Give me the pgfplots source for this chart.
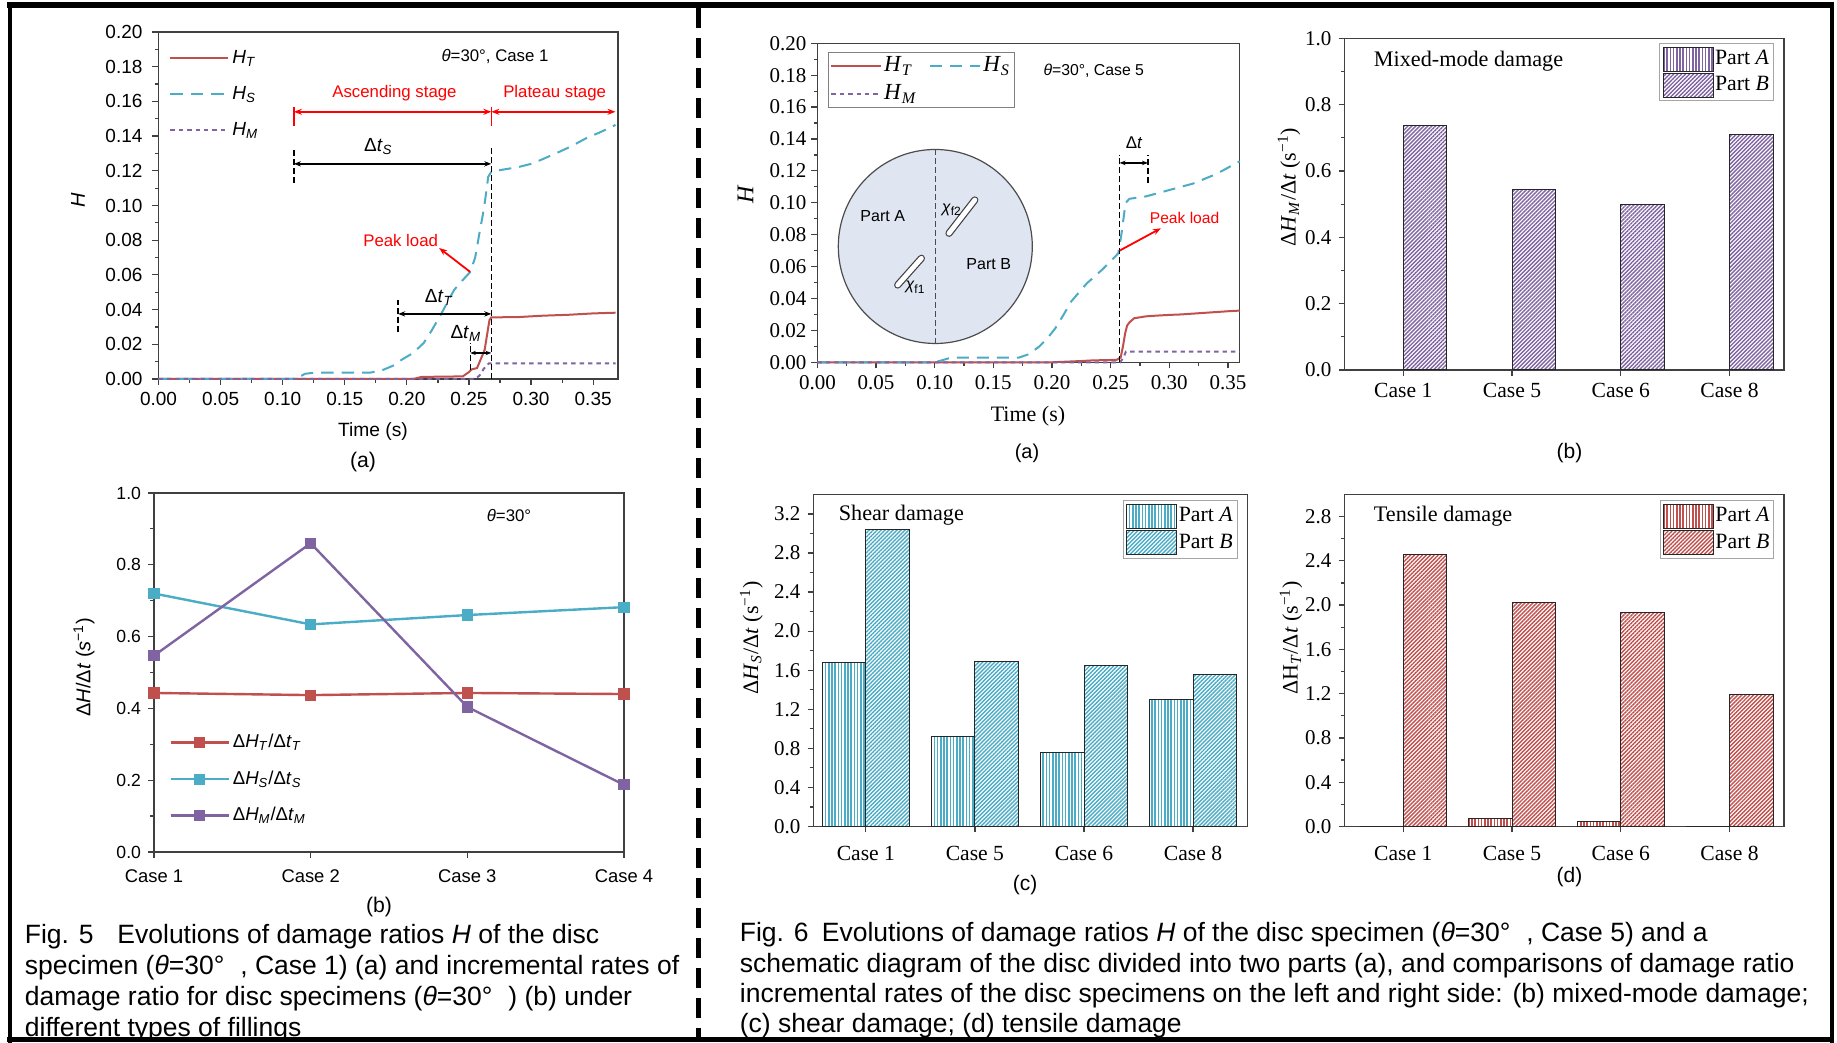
\documentclass[border=0pt]{standalone}
\usepackage{fontspec}
\setmainfont{Liberation Sans}
\newfontfamily\serif{Liberation Serif}
\usepackage{pgfplots}
\pgfplotsset{compat=1.18}
\usetikzlibrary{patterns.meta,arrows.meta}
\definecolor{cT}{HTML}{C0504D}
\definecolor{cS}{HTML}{4BACC6}
\definecolor{cM}{HTML}{8064A2}
\definecolor{disc}{HTML}{DFE5F1}
\definecolor{axc}{HTML}{404040}
\newcommand{\fs}[1]{\fontsize{#1}{#1}\selectfont}
\pgfplotsset{
  base/.style={scale only axis, axis line style={draw=axc, line width=0.7pt},
    tick style={draw=axc, line width=0.6pt}, tick align=outside,
    xtick pos=left, ytick pos=left, major tick length=3pt, minor tick length=1.8pt,
    scaled ticks=false, /pgf/number format/assume math mode=true, clip=false},
  barA/.style={fill=white, draw=black!85, line width=0.5pt,
    postaction={pattern={Lines[angle=90,distance=1.6pt,line width=0.75pt]}, pattern color=#1}},
  barB/.style={fill=white, draw=black!85, line width=0.5pt,
    postaction={pattern={Lines[angle=45,distance=1.4pt,line width=0.7pt]}, pattern color=#1}},
  barleg/.style={legend image code/.code={\draw[##1, draw=black!85, line width=0.5pt] (0pt,-6pt) rectangle (25pt,6pt);}},
  barlegstyle/.style={legend style={at={#1}, anchor=north east, draw=gray!70, fill=white,
    font=\serif\fs{10.9}, inner sep=1.5pt, row sep=0.6pt, nodes={inner sep=0.7pt}}, legend cell align=left},
}
\begin{document}
\begin{tikzpicture}[x=0.5pt,y=0.5pt]
\useasboundingbox (0,0) rectangle (1837,1043);
\fill[white] (0,0) rectangle (1837,1043);

% ---------------- Fig 5 (a)
\begin{axis}[base, at={(79.25pt,332pt)}, anchor=south west, width=229.75pt, height=173.5pt,
  xmin=0, xmax=0.37, ymin=0, ymax=0.2,
  xtick={0,0.05,0.1,0.15,0.2,0.25,0.3,0.35},
  ytick={0,0.02,0.04,0.06,0.08,0.1,0.12,0.14,0.16,0.18,0.2},
  minor x tick num=1, minor y tick num=1,
  tick label style={font=\fs{9.5}},
  xticklabel style={/pgf/number format/.cd,fixed,fixed zerofill,precision=2},
  yticklabel style={/tikz/xshift=-1.5pt, /pgf/number format/.cd,fixed,fixed zerofill,precision=2},
  legend style={at={(0.023,0.957)}, anchor=north west, draw=none, fill=none,
    font=\fs{9.5}, row sep=7pt, inner sep=0pt, nodes={inner sep=1.5pt}},
  legend cell align=left,
  legend image code/.code={\draw[#1] (0pt,0pt) -- (29pt,0pt);},
]
\addplot[cT, line width=1pt] coordinates {(0,0) (0.205,0) (0.212,0.0012) (0.245,0.0015) (0.250,0.0040) (0.252,0.0055) (0.2565,0.0063) (0.2626,0.0167) (0.2665,0.0340) (0.268,0.0355) (0.290,0.0357) (0.310,0.0365) (0.330,0.0370) (0.350,0.0378) (0.368,0.0382)};
\addlegendentry{\textit{H}\textsubscript{\textit{T}}}
\addplot[cS, line width=1pt, dash pattern=on 6.25pt off 4pt] coordinates {(0,0) (0.110,0) (0.113,0.001) (0.118,0.0030) (0.125,0.0036) (0.170,0.0036) (0.180,0.0050) (0.190,0.0080) (0.1956,0.0110) (0.205,0.0150) (0.2135,0.0207) (0.220,0.0280) (0.228,0.0380) (0.238,0.0513) (0.245,0.0570) (0.251,0.0617) (0.255,0.0700) (0.2584,0.0840) (0.261,0.0940) (0.263,0.1030) (0.2655,0.1165) (0.268,0.1195) (0.280,0.1210) (0.289,0.1220) (0.300,0.1240) (0.307,0.1260) (0.320,0.1300) (0.332,0.1340) (0.345,0.1390) (0.355,0.1420) (0.368,0.1464)};
\addlegendentry{\textit{H}\textsubscript{\textit{S}}}
\addplot[cM, line width=1pt, dash pattern=on 2.2pt off 2pt] coordinates {(0,0) (0.255,0) (0.2585,0.002) (0.262,0.006) (0.266,0.009) (0.368,0.009)};
\addlegendentry{\textit{H}\textsubscript{\textit{M}}}
% annotations
\draw[red, line width=0.8pt, {Stealth[length=4pt]}-{Stealth[length=4pt]}] (axis cs:0.109,0.154) -- (axis cs:0.268,0.154);
\draw[red, line width=0.8pt, {Stealth[length=4pt]}-{Stealth[length=4pt]}] (axis cs:0.268,0.154) -- (axis cs:0.368,0.154);
\draw[red, line width=0.8pt] (axis cs:0.109,0.146) -- (axis cs:0.109,0.157);
\draw[red, line width=0.8pt] (axis cs:0.268,0.146) -- (axis cs:0.268,0.157);
\node[red, font=\fs{8.4}] at (axis cs:0.190,0.165) {Ascending stage};
\node[red, font=\fs{8.4}] at (axis cs:0.319,0.165) {Plateau stage};
\node[font=\fs{8.4}] at (axis cs:0.271,0.186) {\textit{θ}=30°, Case 1};
\draw[black, line width=0.7pt, dash pattern=on 3pt off 1.5pt] (axis cs:0.109,0.113) -- (axis cs:0.109,0.133);
\draw[black, line width=0.8pt, dash pattern=on 3pt off 1.5pt] (axis cs:0.268,0) -- (axis cs:0.268,0.133);
\draw[black, line width=0.8pt, {Stealth[length=3.5pt]}-{Stealth[length=3.5pt]}] (axis cs:0.109,0.124) -- (axis cs:0.268,0.124);
\node[font=\fs{9.5}] at (axis cs:0.177,0.134) {Δ\textit{t}\textsubscript{\textit{S}}};
\draw[black, line width=0.7pt, dash pattern=on 3pt off 1.5pt] (axis cs:0.193,0.027) -- (axis cs:0.193,0.0455);
\draw[black, line width=0.8pt, {Stealth[length=3.5pt]}-{Stealth[length=3.5pt]}] (axis cs:0.193,0.0375) -- (axis cs:0.268,0.0375);
\node[font=\fs{9.5}] at (axis cs:0.226,0.047) {Δ\textit{t}\textsubscript{\textit{T}}};
\draw[black, line width=0.7pt, dash pattern=on 3pt off 1.5pt] (axis cs:0.251,0.005) -- (axis cs:0.251,0.0207);
\draw[black, line width=0.8pt, {Stealth[length=2.8pt]}-{Stealth[length=2.8pt]}] (axis cs:0.251,0.015) -- (axis cs:0.268,0.015);
\node[font=\fs{9.5}] at (axis cs:0.2475,0.0265) {Δ\textit{t}\textsubscript{\textit{M}}};
\node[red, font=\fs{8.4}] at (axis cs:0.195,0.080) {Peak load};
\draw[red, line width=0.9pt, -{Stealth[length=4pt]}] (axis cs:0.251,0.0617) -- (axis cs:0.226,0.0755);
\end{axis}
\node[rotate=90, font=\fs{10}\itshape] at (78,1043-200) {H};
\node[font=\fs{9.6}] at (373,1043-432) {Time (s)};
\node[font=\fs{10.6}] at (363,1043-462) {(a)};

% ---------------- Fig 5 (b)
\begin{axis}[base, at={(77pt,95.5pt)}, anchor=south west, width=235pt, height=179.5pt,
  xmin=0, xmax=3, ymin=0, ymax=1,
  xtick={0,1,2,3}, xticklabels={Case 1,Case 2,Case 3,Case 4},
  ytick={0,0.2,0.4,0.6,0.8,1}, minor y tick num=1,
  tick label style={font=\fs{8.8}},
  xticklabel style={font=\fs{9.2}, yshift=-2.5pt},
  yticklabel style={/pgf/number format/.cd,fixed,fixed zerofill,precision=1},
  legend style={at={(0.032,0.337)}, anchor=north west, draw=none, fill=none,
    font=\fs{9.3}, row sep=7pt, inner sep=0pt, nodes={inner sep=1.5pt}},
  legend cell align=left,
  legend image code/.code={\draw[mark repeat=2,mark phase=2,#1] plot coordinates {(0pt,0pt) (14.5pt,0pt) (29pt,0pt)};},
]
\addplot[cT, line width=1.2pt, mark=square*, mark size=2.2pt] coordinates {(0,0.443) (1,0.437) (2,0.443) (3,0.440)};
\addlegendentry{Δ\textit{H}\textsubscript{\textit{T}}/Δ\textit{t}\textsubscript{\textit{T}}}
\addplot[cS, line width=1.2pt, mark=square*, mark size=2.2pt] coordinates {(0,0.720) (1,0.634) (2,0.660) (3,0.682)};
\addlegendentry{Δ\textit{H}\textsubscript{\textit{S}}/Δ\textit{t}\textsubscript{\textit{S}}}
\addplot[cM, line width=1.2pt, mark=square*, mark size=2.2pt] coordinates {(0,0.547) (1,0.860) (2,0.404) (3,0.187)};
\addlegendentry{Δ\textit{H}\textsubscript{\textit{M}}/Δ\textit{t}\textsubscript{\textit{M}}}
\node[font=\fs{8.4}] at (axis cs:2.266,0.936) {\textit{θ}=30°};
\end{axis}
\node[rotate=90, font=\fs{10}] at (84,1043-667) {Δ\textit{H}/Δ\textit{t} (\textit{s}\textsuperscript{−1})};
\node[font=\fs{10.6}] at (379,1043-907) {(b)};

% ---------------- Fig 6 (a)
\begin{axis}[base, at={(408.7pt,340.35pt)}, anchor=south west, width=211.15pt, height=159.5pt,
  xmin=0, xmax=0.36, ymin=0, ymax=0.2,
  xtick={0,0.05,0.1,0.15,0.2,0.25,0.3,0.35},
  ytick={0,0.02,0.04,0.06,0.08,0.1,0.12,0.14,0.16,0.18,0.2},
  minor x tick num=1, minor y tick num=1,
  tick label style={font=\serif\fs{10.5}},
  xticklabel style={/pgf/number format/.cd,fixed,fixed zerofill,precision=2},
  yticklabel style={/tikz/xshift=1pt, /pgf/number format/.cd,fixed,fixed zerofill,precision=2},
  legend style={at={(0.024,0.974)}, anchor=north west, draw=gray, fill=white,
    font=\serif\fs{11.5}, inner sep=1.2pt, row sep=2.5pt, nodes={inner sep=1.2pt},
    /tikz/every even column/.append style={column sep=5pt}},
  legend columns=2, legend cell align=left,
  legend image code/.code={\draw[#1] (0pt,0pt) -- (24.75pt,0pt);},
]
\addplot[cT, line width=1pt] coordinates {(0,0) (0.200,0) (0.225,0.0008) (0.235,0.0012) (0.255,0.0015) (0.2585,0.003) (0.2605,0.010) (0.2623,0.018) (0.264,0.023) (0.266,0.025) (0.270,0.0276) (0.280,0.0288) (0.290,0.0293) (0.300,0.0297) (0.310,0.0300) (0.320,0.0305) (0.330,0.0310) (0.340,0.0315) (0.350,0.0320) (0.360,0.0324)};
\addlegendentry{\textit{H}\textsubscript{\textit{T}}}
\addplot[cS, line width=1pt, dash pattern=on 6pt off 4pt] coordinates {(0,0) (0.100,0) (0.105,0.001) (0.112,0.0025) (0.120,0.003) (0.172,0.003) (0.180,0.005) (0.189,0.0098) (0.196,0.015) (0.2028,0.0213) (0.210,0.030) (0.2162,0.038) (0.2297,0.0495) (0.2431,0.0583) (0.2565,0.0683) (0.2593,0.081) (0.2627,0.0999) (0.266,0.1025) (0.280,0.1040) (0.290,0.1060) (0.300,0.1080) (0.310,0.1100) (0.320,0.1120) (0.330,0.1150) (0.340,0.1180) (0.350,0.1220) (0.360,0.1260)};
\addlegendentry{\textit{H}\textsubscript{\textit{S}}}
\addplot[cM, line width=1pt, dash pattern=on 2.2pt off 2pt] coordinates {(0,0) (0.258,0) (0.261,0.003) (0.263,0.0067) (0.360,0.0067)};
\addlegendentry{\textit{H}\textsubscript{\textit{M}}}
\draw[black, line width=0.8pt, dash pattern=on 3pt off 1.5pt] (axis cs:0.2576,0) -- (axis cs:0.2576,0.130);
\draw[black, line width=0.8pt, dash pattern=on 3pt off 1.5pt] (axis cs:0.2818,0.1124) -- (axis cs:0.2818,0.130);
\draw[black, line width=0.8pt, {Stealth[length=3pt]}-{Stealth[length=3pt]}] (axis cs:0.2576,0.125) -- (axis cs:0.2818,0.125);
\node[font=\fs{8.5}] at (axis cs:0.270,0.1375) {Δ\textit{t}};
\node[red, font=\fs{7.8}] at (axis cs:0.313,0.0903) {Peak load};
\draw[red, line width=0.9pt, -{Stealth[length=4pt]}] (axis cs:0.2576,0.070) -- (axis cs:0.2928,0.084);
\node[font=\fs{7.9}] at (axis cs:0.2356,0.1826) {\textit{θ}=30°, Case 5};
\end{axis}
% disc schematic
\fill[disc] (935.3,1043-246.5) circle [radius=48.5pt];
\draw[black!70, line width=0.6pt] (935.3,1043-246.5) circle [radius=48.5pt];
\draw[black!70, line width=0.5pt, dash pattern=on 3pt off 1.5pt] (935.3,1043-149.5) -- (935.3,1043-343.5);
\draw[black!75, line width=3.6pt, line cap=round] (949,1043-233.3) -- (974.8,1043-200);
\draw[white, line width=2.4pt, line cap=round] (949,1043-233.3) -- (974.8,1043-200);
\draw[black!75, line width=3.6pt, line cap=round] (897.7,1043-285) -- (921.4,1043-258.3);
\draw[white, line width=2.4pt, line cap=round] (897.7,1043-285) -- (921.4,1043-258.3);
\node[font=\fs{8}] at (882.7,1043-216) {Part A};
\node[font=\fs{8}] at (988.7,1043-264.3) {Part B};
\node[font=\fs{8}] at (951.9,1043-210) {\textit{χ}\textsubscript{f2}};
\node[font=\fs{8}] at (915.5,1043-287.3) {\textit{χ}\textsubscript{f1}};
\node[rotate=90, font=\serif\fs{12}\itshape] at (745.5,1043-195) {H};
\node[font=\serif\fs{11}] at (1028,1043-416.7) {Time (s)};
\node[font=\fs{10}] at (1027,1043-453) {(a)};

% ---------------- Fig 6 (b)
\begin{axis}[base, ybar, bar width=0.4, at={(672.25pt,336.5pt)}, anchor=south west, width=219.7pt, height=165.85pt,
  xmin=-0.54, xmax=3.5, ymin=0, ymax=1,
  xtick={0,1,2,3}, xticklabels={Case 1,Case 5,Case 6,Case 8},
  ytick={0,0.2,0.4,0.6,0.8,1}, minor y tick num=1,
  tick label style={font=\serif\fs{10.5}},
  xticklabel style={font=\serif\fs{10.8}},
  yticklabel style={/pgf/number format/.cd,fixed,fixed zerofill,precision=1},
  barlegstyle={(0.977,0.985)},
]
\addplot[bar shift=-0.2, barA=cM, barleg] coordinates {(0,0) (1,0) (2,0) (3,0)};
\addlegendentry{Part \textit{A}}
\addplot[bar shift=0.2, barB=cM, barleg] coordinates {(0,0.737) (1,0.545) (2,0.498) (3,0.711)};
\addlegendentry{Part \textit{B}}
\node[anchor=west, font=\serif\fs{11.1}] at (rel axis cs:0.0508,0.9295) {Mixed-mode damage};
\end{axis}
\node[rotate=90, font=\serif\fs{11}] at (1289,1043-187) {Δ\textit{H}\textsubscript{\textit{M}}/Δ\textit{t} (s\textsuperscript{−1})};
\node[font=\fs{10.5}] at (1569.5,1043-453.3) {(b)};

% ---------------- Fig 6 (c)
\begin{axis}[base, ybar, bar width=0.4, at={(406.75pt,108.25pt)}, anchor=south west, width=217.05pt, height=166.05pt,
  xmin=-0.48, xmax=3.5, ymin=0, ymax=3.4,
  xtick={0,1,2,3}, xticklabels={Case 1,Case 5,Case 6,Case 8},
  ytick={0,0.4,0.8,1.2,1.6,2,2.4,2.8,3.2}, minor y tick num=1,
  tick label style={font=\serif\fs{10.5}},
  xticklabel style={font=\serif\fs{10.8}, yshift=-3.5pt},
  yticklabel style={/pgf/number format/.cd,fixed,fixed zerofill,precision=1},
  barlegstyle={(0.977,0.982)},
]
\addplot[bar shift=-0.2, barA=cS, barleg] coordinates {(0,1.680) (1,0.920) (2,0.760) (3,1.305)};
\addlegendentry{Part \textit{A}}
\addplot[bar shift=0.2, barB=cS, barleg] coordinates {(0,3.040) (1,1.690) (2,1.645) (3,1.560)};
\addlegendentry{Part \textit{B}}
\node[anchor=west, font=\serif\fs{11.1}] at (rel axis cs:0.042,0.937) {Shear damage};
\end{axis}
\node[rotate=90, font=\serif\fs{11}] at (751.4,1043-638) {Δ\textit{H}\textsubscript{\textit{S}}/Δ\textit{t} (s\textsuperscript{−1})};
\node[font=\fs{10.5}] at (1025,1043-885) {(c)};

% ---------------- Fig 6 (d)
\begin{axis}[base, ybar, bar width=0.4, at={(672.25pt,108.25pt)}, anchor=south west, width=219.7pt, height=166.05pt,
  xmin=-0.54, xmax=3.5, ymin=0, ymax=3.0,
  xtick={0,1,2,3}, xticklabels={Case 1,Case 5,Case 6,Case 8},
  ytick={0,0.4,0.8,1.2,1.6,2,2.4,2.8}, minor y tick num=1,
  tick label style={font=\serif\fs{10.5}},
  xticklabel style={font=\serif\fs{10.8}, yshift=-3.5pt},
  yticklabel style={/pgf/number format/.cd,fixed,fixed zerofill,precision=1},
  barlegstyle={(0.978,0.982)},
]
\addplot[bar shift=-0.2, barA=cT, barleg] coordinates {(0,0) (1,0.075) (2,0.048) (3,0)};
\addlegendentry{Part \textit{A}}
\addplot[bar shift=0.2, barB=cT, barleg] coordinates {(0,2.455) (1,2.023) (2,1.933) (3,1.190)};
\addlegendentry{Part \textit{B}}
\node[anchor=west, font=\serif\fs{11.1}] at (rel axis cs:0.0508,0.935) {Tensile damage};
\end{axis}
\node[rotate=90, font=\serif\fs{11}] at (1291,1043-638) {ΔH\textsubscript{\textit{T}}/Δ\textit{t} (s\textsuperscript{−1})};
\node[font=\fs{10.5}] at (1569.5,1043-876.8) {(d)};

% ---------------- captions
\begin{scope}[every node/.style={anchor=base west, inner sep=0pt, font=\fs{13.25}}]
\node at (24.5,1043-944) {Fig. 5\hspace{0.9em}Evolutions of damage ratios \textit{H} of the disc};
\node at (24.5,1043-975) {specimen (\textit{θ}=30°\hspace{0.6em}, Case 1) (a) and incremental rates of};
\node at (24.5,1043-1006) {damage ratio for disc specimens (\textit{θ}=30°\hspace{0.6em}) (b) under};
\node at (24.5,1043-1037) {different types of fillings};
\node at (739.5,1043-942) {Fig. 6\hspace{0.5em}Evolutions of damage ratios \textit{H} of the disc specimen (\textit{θ}=30°\hspace{0.6em}, Case 5) and a};
\node at (739.5,1043-972.5) {schematic diagram of the disc divided into two parts (a), and comparisons of damage ratio};
\node at (739.5,1043-1003) {incremental rates of the disc specimens on the left and right side: (b) mixed-mode damage;};
\node at (739.5,1043-1033) {(c) shear damage; (d) tensile damage};
\end{scope}

% ---------------- frame
\draw[black, line width=3.3pt] (7,1043-5) -- (1834,1043-5);
\draw[black, line width=2pt] (10,1043-3) -- (10,0);
\draw[black, line width=2pt] (1832,1043-3) -- (1832,0);
\draw[black, line width=2.5pt] (7,1043-1040) -- (1834,1043-1040);
\draw[black, line width=2.5pt, dash pattern=on 10pt off 5pt] (698,1043-8) -- (698,4);
\end{tikzpicture}
\end{document}
